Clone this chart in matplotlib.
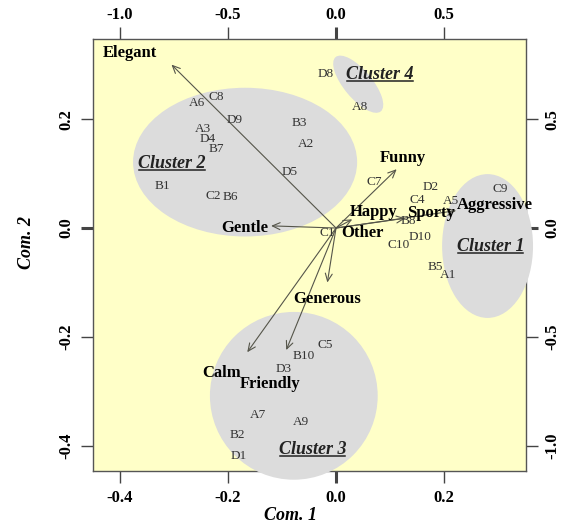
import matplotlib
matplotlib.use("Agg")
import matplotlib.pyplot as plt
from matplotlib.patches import Ellipse
from matplotlib.lines import Line2D
from matplotlib.ticker import FormatStrFormatter

plt.rcParams["font.family"] = "Liberation Serif"
plt.rcParams["axes.unicode_minus"] = False

# scores (Com. 1, Com. 2)
obs_names = ["C8", "A6", "D9", "B3", "A2", "A3", "D4", "B7", "D5", "B1", "C2", "B6",
             "D8", "A8", "C1", "C7", "D2", "C4", "A5", "C9", "B8", "D10", "C10", "B5",
             "A1", "C5", "B10", "D3", "A7", "A9", "B2", "D1"]
obs_x = [-0.222, -0.257, -0.187, -0.067, -0.055, -0.246, -0.237, -0.222, -0.085, -0.320,
         -0.227, -0.196, -0.020, 0.044, -0.017, 0.070, 0.174, 0.150, 0.213, 0.303,
         0.133, 0.155, 0.116, 0.183, 0.207, -0.020, -0.059, -0.096, -0.144, -0.065,
         -0.183, -0.179]
obs_y = [0.240, 0.229, 0.198, 0.193, 0.154, 0.182, 0.163, 0.145, 0.103, 0.077,
         0.059, 0.057, 0.283, 0.222, -0.009, 0.084, 0.075, 0.051, 0.050, 0.072,
         0.013, -0.017, -0.031, -0.072, -0.086, -0.215, -0.235, -0.259, -0.343, -0.356,
         -0.380, -0.418]

# loadings (on the top / right scale)
var_names = ["Elegant", "Gentle", "Funny", "Happy", "Sporty", "Aggressive", "Other",
             "Generous", "Calm", "Friendly"]
load_x = [-0.76, -0.30, 0.28, 0.075, 0.32, 0.555, 0.0, -0.04, -0.41, -0.23]
load_y = [0.75, 0.01, 0.27, 0.04, 0.045, 0.08, 0.0, -0.25, -0.57, -0.56]
# where the variable names sit (Com. 1 / Com. 2 scale)
lab_x = [-0.381, -0.168, 0.124, 0.070, 0.175, 0.294, 0.048, -0.017, -0.211, -0.122]
lab_y = [0.321, 0.000, 0.128, 0.029, 0.028, 0.042, -0.009, -0.130, -0.266, -0.286]
scale = 2.5

clusters = ["Cluster 1", "Cluster 2", "Cluster 3", "Cluster 4"]
cl_cx = [0.280, -0.168, -0.078, 0.041]
cl_cy = [-0.033, 0.121, -0.308, 0.264]
cl_w = [0.168, 0.414, 0.310, 0.130]
cl_h = [0.264, 0.273, 0.308, 0.052]
cl_ang = [0, 0, 0, -50]
cl_lx = [0.285, -0.303, -0.043, 0.081]
cl_ly = [-0.034, 0.119, -0.407, 0.281]

fig = plt.figure(figsize=(5.62, 5.27), dpi=100)
ax = fig.add_axes([93 / 562, 56 / 527, 433 / 562, 432 / 527])
ax.set_facecolor("#FFFFC8")
ax.set_xlim(-0.449, 0.351)
ax.set_ylim(-0.446, 0.347)

for i in range(len(clusters)):
    e = Ellipse((cl_cx[i], cl_cy[i]), cl_w[i], cl_h[i], angle=cl_ang[i],
                facecolor="#DCDCDC", edgecolor="none", zorder=3, clip_on=False)
    ax.add_patch(e)

for i, v in enumerate(var_names):
    if load_x[i] != 0 or load_y[i] != 0:
        ax.annotate("", xy=(load_x[i] / scale, load_y[i] / scale), xytext=(0, 0),
                    arrowprops=dict(arrowstyle="->,head_length=0.55,head_width=0.25",
                                    color="#55554a", lw=0.8, shrinkA=0, shrinkB=0),
                    zorder=4)
    ax.text(lab_x[i], lab_y[i], v, fontsize=12, fontweight="bold", color="black",
            ha="center", va="center", zorder=6)

for n, x, y in zip(obs_names, obs_x, obs_y):
    ax.text(x, y, n, fontsize=9.5, color="#333333", ha="center", va="center", zorder=5)

cl_texts = []
for i, c in enumerate(clusters):
    t = ax.text(cl_lx[i], cl_ly[i], c, fontsize=13, fontweight="bold", style="italic",
                color="#222222", ha="center", va="center", zorder=6)
    cl_texts.append(t)

fmt = FormatStrFormatter("%.1f")
ax.set_xticks([-0.4, -0.2, 0.0, 0.2])
ax.set_yticks([-0.4, -0.2, 0.0, 0.2])
ax.xaxis.set_major_formatter(fmt)
ax.yaxis.set_major_formatter(fmt)
ax.tick_params(length=8.5, width=1, pad=5, labelsize=12, color="#444444")
ax.tick_params(axis="y", labelrotation=90)
for lab in ax.get_xticklabels() + ax.get_yticklabels():
    lab.set_fontweight("bold")
for lab in ax.get_yticklabels():
    lab.set_va("center")

secx = ax.secondary_xaxis("top", functions=(lambda v: v * scale, lambda v: v / scale))
secy = ax.secondary_yaxis("right", functions=(lambda v: v * scale, lambda v: v / scale))
secx.set_xticks([-1.0, -0.5, 0.0, 0.5])
secy.set_yticks([-1.0, -0.5, 0.0, 0.5])
secx.xaxis.set_major_formatter(fmt)
secy.yaxis.set_major_formatter(fmt)
secx.tick_params(length=8.5, width=1, pad=3, labelsize=12, color="#444444")
secy.tick_params(length=8.5, width=1, pad=5, labelsize=12, color="#444444", labelrotation=90)
for lab in secx.get_xticklabels() + secy.get_yticklabels():
    lab.set_fontweight("bold")
for lab in secy.get_yticklabels():
    lab.set_va("center")

# heavier tick at zero, like the original
for a, which in [(ax, "x"), (ax, "y"), (secx, "x"), (secy, "y")]:
    axis = a.xaxis if which == "x" else a.yaxis
    for tk in axis.get_major_ticks():
        if abs(tk.get_loc()) < 1e-9:
            tk.tick1line.set_markeredgewidth(2.2)
            tk.tick2line.set_markeredgewidth(2.2)

for sp in list(ax.spines.values()):
    sp.set_color("#555555")
    sp.set_linewidth(1)
secx.spines["top"].set_visible(False)
secy.spines["right"].set_visible(False)

ax.set_xlabel("Com. 1", fontsize=13, fontweight="bold", style="italic")
ax.set_ylabel("Com. 2", fontsize=13, fontweight="bold", style="italic")
ax.xaxis.set_label_coords(0.455, -0.083)
ax.yaxis.set_label_coords(-0.135, 0.528)

# underline the cluster names
fig.canvas.draw()
inv = fig.transFigure.inverted()
for t in cl_texts:
    bb = t.get_window_extent()
    (x0, y0), (x1, _) = inv.transform([(bb.x0 + 1, bb.y0 + 2), (bb.x1 - 1, bb.y0 + 2)])
    fig.add_artist(Line2D([x0, x1], [y0, y0], color="#222222", lw=1.1, zorder=7))

fig.savefig("out.png", dpi=100)
